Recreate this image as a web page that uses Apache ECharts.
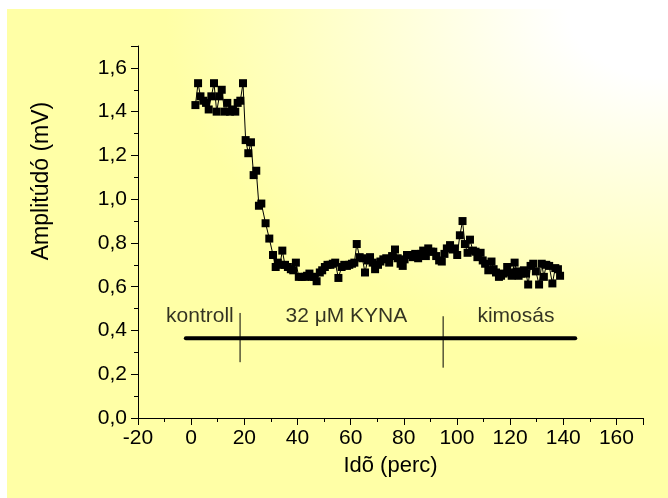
<!DOCTYPE html>
<html>
<head>
<meta charset="utf-8">
<script src="https://cdn.jsdelivr.net/npm/echarts@6/dist/echarts.min.js"></script>
<style>
  html, body { margin: 0; padding: 0; background: #ffffff; }
  #wrap { position: relative; width: 668px; height: 498px; background: #ffffff; }
  #bg {
    position: absolute; left: 7px; top: 9px; right: 0; bottom: 0;
    background: radial-gradient(ellipse 76% 70% at 100% 0%, #ffffff 0%, #ffffff 20%, #ffffa6 100%);
  }
  #chart { position: absolute; left: 0; top: 0; width: 668px; height: 498px; }
</style>
</head>
<body>
<div id="wrap">
  <div id="bg"></div>
  <div id="chart"></div>
</div>
<script>
// Recording time (min) and response amplitude (mV)
const minutes = [
  1.6, 2.6, 3.5, 4.6, 5.6, 6.6, 7.6, 8.6, 9.6, 10.6, 11.5, 12.6, 13.6, 14.6, 15.6, 16.6, 17.5, 18.5, 19.5,
  20.5, 21.5, 22.5, 23.5, 24.5, 25.5, 26.4, 28.0, 29.4, 30.8, 31.8, 32.6, 33.4, 34.3, 35.3, 36.4, 37.5,
  38.4, 39.4, 40.5, 41.6, 42.8, 43.6, 44.5, 45.4, 46.3, 47.2, 48.4, 49.3, 50.3, 51.3, 52.4, 53.3, 54.2,
  55.4, 56.6, 57.6, 58.6, 59.5, 60.5, 61.4, 62.3, 63.4, 64.4, 65.4, 66.4, 67.3, 68.3, 69.2, 70.3, 71.2,
  72.3, 73.4, 74.5, 75.6, 76.7, 77.7, 78.8, 79.6, 80.3, 81.2, 82.3, 83.4, 84.3, 85.4, 86.4, 87.3, 88.3,
  89.2, 90.2, 91.1, 92.2, 93.3, 94.3, 95.3, 96.2, 97.4, 98.4, 99.2, 100.1, 101.1, 102.1, 103.0, 104.0,
  104.9, 106.0, 107.0, 107.7, 108.9, 109.7, 110.6, 111.8, 113.0, 113.8, 114.7, 115.8, 116.6, 117.5,
  118.9, 119.8, 120.6, 121.7, 122.5, 123.2, 124.2, 125.2, 126.0, 126.8, 127.7, 128.7, 129.7, 130.9,
  131.9, 132.7, 133.6, 134.7, 135.9, 137.0, 138.0, 138.8
];
const amplitude = [
  1.43, 1.53, 1.47, 1.45, 1.44, 1.41, 1.47, 1.53, 1.40, 1.47, 1.50, 1.40, 1.44, 1.40, 1.41, 1.40, 1.44, 1.45, 1.53,
  1.27, 1.21, 1.26, 1.11, 1.13, 0.97, 0.98, 0.89, 0.82, 0.745, 0.69, 0.71, 0.70, 0.765, 0.70, 0.69, 0.68,
  0.675, 0.71, 0.645, 0.645, 0.645, 0.65, 0.66, 0.645, 0.645, 0.625, 0.665, 0.675, 0.69, 0.70, 0.70, 0.705, 0.71,
  0.64, 0.69, 0.70, 0.695, 0.70, 0.705, 0.71, 0.795, 0.735, 0.73, 0.665, 0.72, 0.735, 0.71, 0.68, 0.70, 0.715,
  0.725, 0.73, 0.71, 0.74, 0.77, 0.73, 0.705, 0.695, 0.725, 0.745, 0.745, 0.735, 0.75, 0.73, 0.75, 0.765, 0.74,
  0.775, 0.76, 0.76, 0.74, 0.72, 0.715, 0.75, 0.775, 0.79, 0.77, 0.775, 0.745, 0.835, 0.90, 0.795, 0.755,
  0.815, 0.765, 0.76, 0.735, 0.755, 0.72, 0.705, 0.675, 0.715, 0.68, 0.665, 0.645, 0.65, 0.66,
  0.69, 0.665, 0.65, 0.71, 0.67, 0.65, 0.66, 0.675, 0.66, 0.61, 0.695, 0.705, 0.67, 0.61,
  0.705, 0.645, 0.70, 0.695, 0.615, 0.685, 0.68, 0.65
];

// Experimental phases: timeline bar, phase boundaries and phase names
const phaseBarStart = -2;
const phaseBarEnd = 144.5;
const phaseBarLevel = 0.365;
const phaseBoundaries = [18.4, 94.8];
const boundaryLows = [0.255, 0.23];
const boundaryHighs = [0.48, 0.465];
const phaseNames = ['kontroll', '32 \u03bcM KYNA', 'kimos\u00e1s'];
const phaseNameX = [3.3, 58.4, 122.2];
const phaseNameLevel = 0.467;

// Axis ranges and tick steps
const xMin = -20, xMax = 170, xStep = 20, xMinorStep = 10;
const yMin = 0, yMax = 1.7, yStep = 0.2, yMinorStep = 0.1;

const FONT = "'Liberation Sans', Arial, sans-serif";
const points = minutes.map((t, i) => [t, amplitude[i]]);

const boundarySeries = phaseBoundaries.map((x, i) => ({
  type: 'line',
  data: [[x, boundaryLows[i]], [x, boundaryHighs[i]]],
  symbol: 'none',
  lineStyle: { color: '#000', width: 1 },
  z: 3
}));

const chart = echarts.init(document.getElementById('chart'), null, { renderer: 'canvas' });
chart.setOption({
  backgroundColor: 'transparent',
  animation: false,
  grid: { left: 138, right: 25, top: 46, bottom: 80, containLabel: false },
  xAxis: [
    {
      type: 'value', min: xMin, max: xMax, interval: xStep,
      name: 'Id\u00f5 (perc)', nameLocation: 'middle', nameGap: 37,
      nameTextStyle: { fontFamily: FONT, fontSize: 22, color: '#000' },
      axisLine: { onZero: false, lineStyle: { color: '#000', width: 1 } },
      axisTick: { show: true, inside: false, length: 7, lineStyle: { color: '#000' } },
      axisLabel: {
        margin: 10, fontFamily: FONT, fontSize: 21, color: '#000',
        formatter: v => (Math.abs(v % xStep) < 1e-9 ? String(v) : '')
      },
      splitLine: { show: false }
    },
    {
      type: 'value', min: xMin, max: xMax, interval: xMinorStep, position: 'bottom',
      axisLine: { show: false, onZero: false },
      axisTick: { show: true, length: 4, lineStyle: { color: '#000' } },
      axisLabel: { show: false },
      splitLine: { show: false }
    }
  ],
  yAxis: [
    {
      type: 'value', min: yMin, max: yMax, interval: yStep,
      axisLine: { show: true, onZero: false, lineStyle: { color: '#000', width: 1 } },
      axisTick: { show: true, length: 7, lineStyle: { color: '#000' } },
      axisLabel: {
        margin: 11, fontFamily: FONT, fontSize: 21, color: '#000',
        formatter: v => {
          const k = Math.round(v / yStep);
          return Math.abs(v - k * yStep) < 1e-6 ? v.toFixed(1).replace('.', ',') : '';
        }
      },
      splitLine: { show: false }
    },
    {
      type: 'value', min: yMin, max: yMax, interval: yMinorStep, position: 'left',
      axisLine: { show: false, onZero: false },
      axisTick: { show: true, length: 4, lineStyle: { color: '#000' } },
      axisLabel: { show: false },
      splitLine: { show: false }
    }
  ],
  graphic: [
    {
      type: 'text', x: 42, y: 181, rotation: Math.PI / 2,
      style: {
        text: 'Amplit\u00fad\u00f3 (mV)', fill: '#000',
        font: '23px ' + FONT, align: 'center', verticalAlign: 'middle'
      }
    }
  ],
  series: [
    {
      type: 'line',
      data: points,
      symbol: 'rect',
      symbolSize: 8,
      itemStyle: { color: '#000' },
      lineStyle: { color: '#000', width: 1 },
      z: 4
    },
    {
      type: 'line',
      data: [[phaseBarStart, phaseBarLevel], [phaseBarEnd, phaseBarLevel]],
      symbol: 'none',
      lineStyle: { color: '#000', width: 4, cap: 'round' },
      z: 3
    },
    ...boundarySeries,
    {
      type: 'scatter',
      symbolSize: 0,
      data: phaseNames.map((n, i) => ({ name: n, value: [phaseNameX[i], phaseNameLevel] })),
      label: {
        show: true, position: 'inside', formatter: p => p.name,
        fontFamily: FONT, fontSize: 21, color: '#000'
      },
      z: 5
    }
  ]
});
</script>
</body>
</html>
